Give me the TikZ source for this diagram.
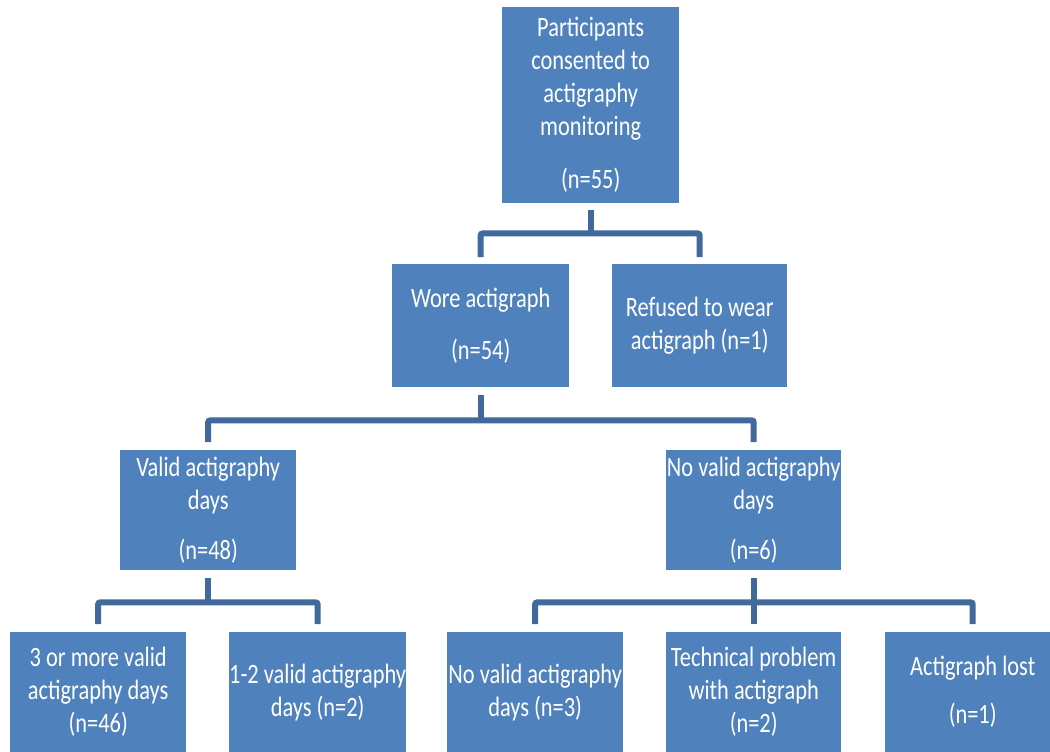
\documentclass[tikz,border=0pt]{standalone}
\usepackage{fontspec}
\setmainfont[FakeStretch=0.8]{Carlito}
\usetikzlibrary{calc}
\definecolor{boxblue}{HTML}{4F81BD}
\definecolor{linkblue}{HTML}{41699C}
\begin{document}
\begin{tikzpicture}[x=1pt,y=-1pt,
  box/.style={rectangle, fill=boxblue, text=white, inner sep=0pt, anchor=north west, align=center, font=\fontsize{28}{33}\selectfont},
  link/.style={draw=linkblue, line width=6pt, rounded corners=2pt}]
\clip (0,0) rectangle (1050,752);
\fill[white] (0,0) rectangle (1050,752);
% boxes
\node[box, minimum width=177pt, minimum height=196pt] (top) at (502,7) {Participants\\consented to\\actigraphy\\monitoring\\[20pt](n=55)};
\node[box, minimum width=177pt, minimum height=123pt] (wore) at (392,264) {Wore actigraph\\[19pt](n=54)};
\node[box, minimum width=175pt, minimum height=123pt] (refused) at (612,264) {Refused to wear\\actigraph (n=1)};
\node[box, minimum width=176pt, minimum height=120pt] (valid) at (120,450) {Valid actigraphy\\days\\[17pt](n=48)};
\node[box, minimum width=175pt, minimum height=120pt] (novalid) at (666,450) {No valid actigraphy\\days\\[17pt](n=6)};
\node[box, minimum width=176pt, minimum height=120pt] (b1) at (10,632) {3 or more valid\\actigraphy days\\(n=46)};
\node[box, minimum width=175pt, minimum height=120pt] (b2) at (229,632) {1-2 valid actigraphy\\days (n=2)};
\node[box, minimum width=176pt, minimum height=120pt] (b3) at (447,632) {No valid actigraphy\\days (n=3)};
\node[box, minimum width=175pt, minimum height=120pt] (b4) at (666,632) {Technical problem\\with actigraph\\(n=2)};
\node[box, minimum width=175pt, minimum height=120pt] (b5) at (885,632) {Actigraph lost\\[15pt](n=1)};
% level 1
\draw[link] ($(top.south)+(0,7)$) -- ($(top.south)+(0,30)$);
\draw[link] ($(wore.north)+(0,-7)$) |- ($(top.south)+(0,30)$) -| ($(refused.north)+(0,-7)$);
% level 2
\draw[link] ($(wore.south)+(0,8)$) -- ($(wore.south)+(0,33)$);
\draw[link] ($(valid.north)+(0,-8)$) |- ($(wore.south)+(0,33)$) -| ($(novalid.north)+(0,-8)$);
% level 3a
\draw[link] ($(valid.south)+(0,8)$) -- ($(valid.south)+(0,32)$);
\draw[link] ($(b1.north)+(0,-8)$) |- ($(valid.south)+(0,32)$) -| ($(b2.north)+(0,-8)$);
% level 3b
\draw[link] ($(novalid.south)+(0,8)$) -- ($(novalid.south)+(0,32)$);
\draw[link] ($(b3.north)+(0,-8)$) |- ($(novalid.south)+(0,32)$) -| ($(b5.north)+(0,-8)$);
\draw[link] ($(b4.north)+(0,-8)$) -- ($(novalid.south)+(0,32)$);
\end{tikzpicture}
\end{document}
